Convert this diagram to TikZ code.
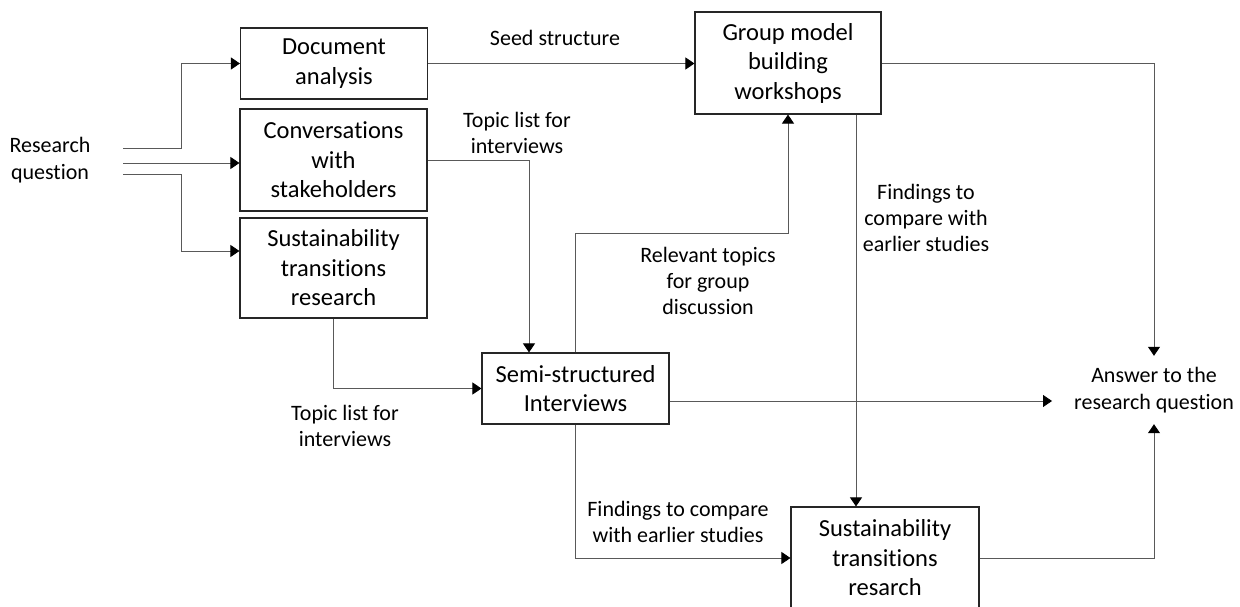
\documentclass[tikz,border=0pt]{standalone}
\usepackage{fontspec}
\setmainfont{Carlito}[Ligatures=NoCommon]
\usetikzlibrary{arrows.meta}
\begin{document}
\begin{tikzpicture}[x=1pt,y=-1pt,
  box/.style={draw=black!85,line width=1.1pt,align=center,inner sep=0pt,
    font=\fontsize{24.5}{29.5}\selectfont,minimum width=187pt},
  lab/.style={align=center,inner sep=0pt,font=\fontsize{22}{26.3}\selectfont},
  conn/.style={draw=black!65,line width=0.85pt,-{Triangle[length=9pt,width=12pt,color=black]}}]
\useasboundingbox (0,0) rectangle (1240,607);
\fill[white] (0,0) rectangle (1240,607);
\clip (0,0) rectangle (1240,607);

% nodes
\node[lab] (rq) at (50,160) {Research\\question};
\coordinate (rq1) at (123,148);
\coordinate (rq2) at (123,163);
\coordinate (rq3) at (123,174);

\node[box,minimum height=71pt] (doc) at (334,63.5) {Document\\analysis};
\node[box,minimum height=102pt] (conv) at (333.5,160) {Conversations\\with\\stakeholders};
\node[box,minimum height=100pt] (str1) at (333.5,268) {Sustainability\\transitions\\research};
\node[box,minimum width=186pt,minimum height=102pt] (gmb) at (788,63) {Group model\\building\\workshops};
\node[box,minimum height=71pt] (semi) at (575.5,388.5) {Semi-structured\\Interviews};
\node[box,minimum width=188pt,minimum height=102pt] (str2) at (885,558) {Sustainability\\transitions\\resarch};
\node[lab,inner xsep=22pt,inner ysep=0pt,minimum height=68pt] (ans) at (1154,390) {Answer to the\\research question};

% labels
\node[lab] (l1) at (555,38) {Seed structure};
\node[lab] (l2) at (517,133) {Topic list for\\interviews};
\node[lab] (l3) at (345,426) {Topic list for\\interviews};
\node[lab] (l4) at (708,281) {Relevant topics\\for group\\discussion};
\node[lab] (l5) at (926,218) {Findings to\\compare with\\earlier studies};
\node[lab] (l6) at (678,522) {Findings to compare\\with earlier studies};

% helper coordinates
\coordinate (se) at ([yshift=-12.5pt]semi.east);
\coordinate (gs) at ([xshift=68pt]gmb.south);

% connectors
\draw[conn] (rq1) -- ++(58,0) |- (doc.west);
\draw[conn] (rq2) -- (rq2 -| conv.west);
\draw[conn] (rq3) -- ++(58,0) |- ([yshift=17pt]str1.west);
\draw[conn] (doc.east) -- (doc.east -| gmb.west);
\draw[conn] (conv.east) -| ([xshift=-46.5pt]semi.north);
\draw[conn] (str1.south) |- (semi.west);
\draw[conn] (semi.north) |- ([yshift=-119pt]gmb.south) -- (gmb.south);
\draw[conn] (gs) -- (gs |- str2.north);
\draw[conn] (gmb.east) -| (ans.north);
\draw[conn] (se) -- (se -| ans.west);
\draw[conn] (str2.east) -| (ans.south);
\draw[conn] (semi.south) |- (str2.west);
\end{tikzpicture}
\end{document}
